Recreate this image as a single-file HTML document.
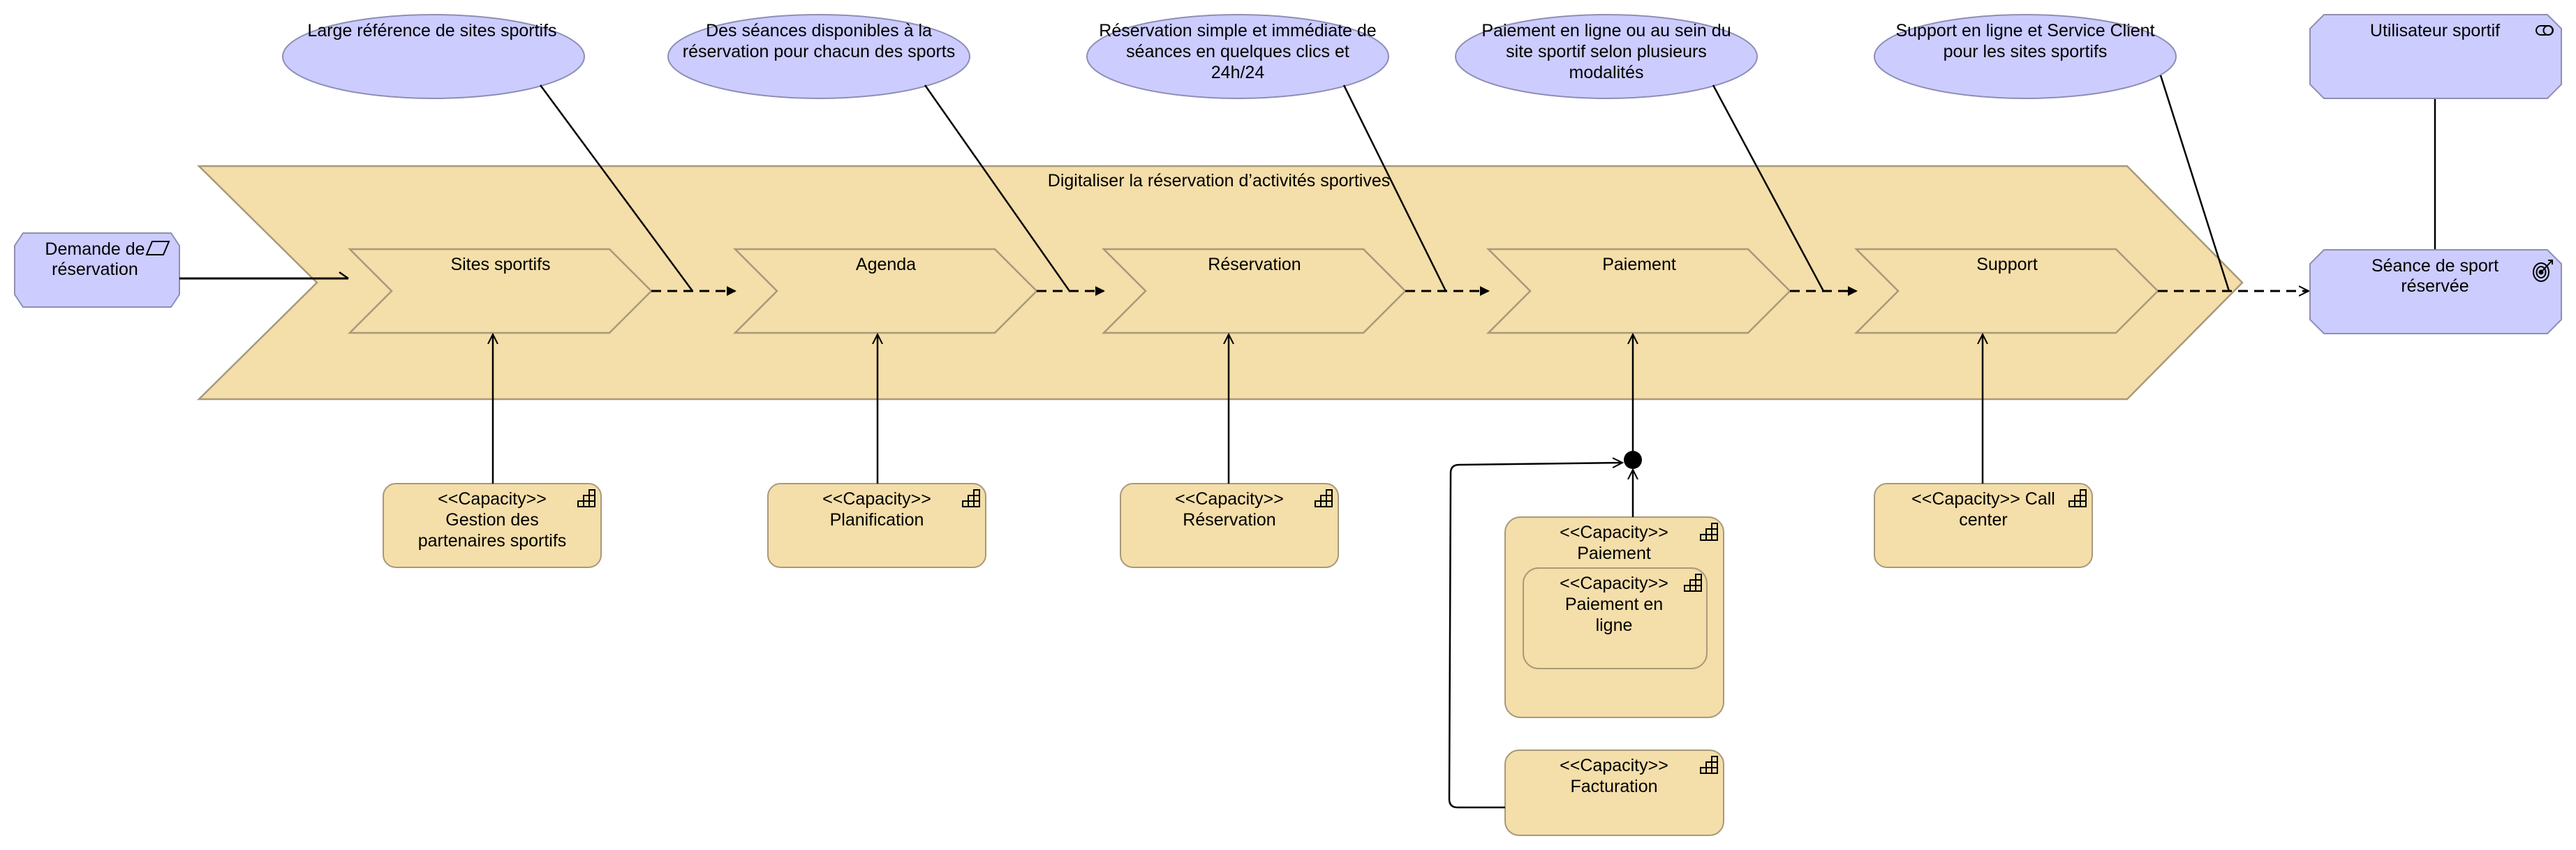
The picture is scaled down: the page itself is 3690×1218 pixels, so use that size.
<!DOCTYPE html>
<html><head><meta charset="utf-8"><style>
html,body{margin:0;padding:0;background:#fff;width:3690px;height:1218px;overflow:hidden}
text{font-family:"Liberation Sans","DejaVu Sans",sans-serif;font-size:25px;fill:#000;text-anchor:middle}
</style></head><body>
<svg width="3690" height="1218" viewBox="0 0 3690 1218" xmlns="http://www.w3.org/2000/svg">
<defs>
<marker id="fa" markerWidth="14" markerHeight="14" refX="12" refY="7" orient="auto" markerUnits="userSpaceOnUse"><path d="M0,0 L14,7 L0,14 z" fill="#000"/></marker>
<marker id="oa" markerWidth="16" markerHeight="16" refX="14" refY="8" orient="auto" markerUnits="userSpaceOnUse"><path d="M0,1 L14,8 L0,15" fill="none" stroke="#000" stroke-width="2"/></marker>
<g id="cap"><rect x="0" y="16" width="8" height="8" fill="none" stroke="#000" stroke-width="2"/><rect x="8" y="16" width="8" height="8" fill="none" stroke="#000" stroke-width="2"/><rect x="16" y="16" width="8" height="8" fill="none" stroke="#000" stroke-width="2"/><rect x="8" y="8" width="8" height="8" fill="none" stroke="#000" stroke-width="2"/><rect x="16" y="8" width="8" height="8" fill="none" stroke="#000" stroke-width="2"/><rect x="16" y="0" width="8" height="8" fill="none" stroke="#000" stroke-width="2"/></g>
</defs>

<polygon points="285,238 3047,238 3212,405 3047,572 285,572 454,405" fill="#f4dea9" stroke="#a8997a" stroke-width="2.5"/>
<text x="1746" y="267">Digitaliser la réservation d’activités sportives</text>

<g fill="#f4dea9" stroke="#a8997a" stroke-width="2.5">
<polygon points="501,357 873,357 933,417 873,477 501,477 561,417"/>
<polygon points="1053,357 1425,357 1485,417 1425,477 1053,477 1113,417"/>
<polygon points="1581,357 1953,357 2013,417 1953,477 1581,477 1641,417"/>
<polygon points="2132,357 2504,357 2564,417 2504,477 2132,477 2192,417"/>
<polygon points="2659,357 3031,357 3091,417 3031,477 2659,477 2719,417"/>
</g>
<text x="717" y="387">Sites sportifs</text>
<text x="1269" y="387">Agenda</text>
<text x="1797" y="387">Réservation</text>
<text x="2348" y="387">Paiement</text>
<text x="2875" y="387">Support</text>

<g stroke="#000" stroke-width="3" stroke-dasharray="14,9" fill="none">
<line x1="933" y1="417" x2="1053" y2="417" marker-end="url(#fa)"/>
<line x1="1485" y1="417" x2="1581" y2="417" marker-end="url(#fa)"/>
<line x1="2013" y1="417" x2="2132" y2="417" marker-end="url(#fa)"/>
<line x1="2564" y1="417" x2="2659" y2="417" marker-end="url(#fa)"/>
<line x1="3091" y1="417" x2="3307" y2="417" marker-end="url(#oa)"/>
</g>

<g fill="#ccccff" stroke="#8e8eb4" stroke-width="2">
<ellipse cx="621" cy="81" rx="216" ry="60"/>
<ellipse cx="1173" cy="81" rx="216" ry="60"/>
<ellipse cx="1773" cy="81" rx="216" ry="60"/>
<ellipse cx="2301" cy="81" rx="216" ry="60"/>
<ellipse cx="2901" cy="81" rx="216" ry="60"/>
</g>
<text x="619" y="52">Large référence de sites sportifs</text>
<text x="1173" y="52">Des séances disponibles à la</text>
<text x="1173" y="82">réservation pour chacun des sports</text>
<text x="1773" y="52">Réservation simple et immédiate de</text>
<text x="1773" y="82">séances en quelques clics et</text>
<text x="1773" y="112">24h/24</text>
<text x="2301" y="52">Paiement en ligne ou au sein du</text>
<text x="2301" y="82">site sportif selon plusieurs</text>
<text x="2301" y="112">modalités</text>
<text x="2901" y="52">Support en ligne et Service Client</text>
<text x="2901" y="82">pour les sites sportifs</text>

<g stroke="#000" stroke-width="2.5">
<line x1="774" y1="122" x2="992" y2="417"/>
<line x1="1325" y1="122" x2="1532" y2="417"/>
<line x1="1925" y1="122" x2="2071" y2="417"/>
<line x1="2454" y1="122" x2="2612" y2="417"/>
<line x1="3095" y1="108" x2="3193" y2="417"/>
<line x1="3488" y1="141" x2="3488" y2="358"/>
</g>

<polygon points="33,334 245,334 257,352 257,422 245,440 33,440 21,422 21,352" fill="#ccccff" stroke="#8e8eb4" stroke-width="2"/>
<text x="136" y="365">Demande de</text>
<text x="136" y="394">réservation</text>
<polygon points="218,346 242,346 234,365 210,365" fill="none" stroke="#000" stroke-width="2"/>
<line x1="257" y1="399" x2="499" y2="399" stroke="#000" stroke-width="3"/>
<path d="M486,390 L499,399" stroke="#000" stroke-width="2.5" fill="none"/>

<polygon points="3329,21 3649,21 3669,41 3669,121 3649,141 3329,141 3309,121 3309,41" fill="#ccccff" stroke="#8e8eb4" stroke-width="2"/>
<text x="3488" y="52">Utilisateur sportif</text>
<rect x="3633" y="37" width="24" height="13" rx="6.5" fill="none" stroke="#000" stroke-width="2"/>
<circle cx="3650" cy="43.5" r="6.5" fill="none" stroke="#000" stroke-width="2"/>
<polygon points="3329,358 3649,358 3669,378 3669,458 3649,478 3329,478 3309,458 3309,378" fill="#ccccff" stroke="#8e8eb4" stroke-width="2"/>
<text x="3488" y="389">Séance de sport</text>
<text x="3488" y="418">réservée</text>
<g fill="none" stroke="#000" stroke-width="2"><ellipse cx="3640" cy="390" rx="11" ry="13"/><ellipse cx="3640" cy="390" rx="6.5" ry="8"/><circle cx="3640" cy="390" r="2.5" fill="#000"/><line x1="3640" y1="390" x2="3656" y2="373"/><path d="M3650,373 L3656,373 L3656,379"/></g>

<g fill="#f4dea9" stroke="#a8997a" stroke-width="2">
<rect x="549" y="693" width="312" height="120" rx="18"/>
<rect x="1100" y="693" width="312" height="120" rx="18"/>
<rect x="1605" y="693" width="312" height="120" rx="18"/>
<rect x="2685" y="693" width="312" height="120" rx="18"/>
<rect x="2156" y="741" width="313" height="287" rx="22"/>
<rect x="2182" y="814" width="263" height="144" rx="22"/>
<rect x="2156" y="1075" width="313" height="122" rx="20"/>
</g>
<text x="705" y="723">&lt;&lt;Capacity&gt;&gt;</text><text x="705" y="753">Gestion des</text><text x="705" y="783">partenaires sportifs</text>
<text x="1256" y="723">&lt;&lt;Capacity&gt;&gt;</text><text x="1256" y="753">Planification</text>
<text x="1761" y="723">&lt;&lt;Capacity&gt;&gt;</text><text x="1761" y="753">Réservation</text>
<text x="2841" y="723">&lt;&lt;Capacity&gt;&gt; Call</text><text x="2841" y="753">center</text>
<text x="2312" y="771">&lt;&lt;Capacity&gt;&gt;</text><text x="2312" y="801">Paiement</text>
<text x="2312" y="844">&lt;&lt;Capacity&gt;&gt;</text><text x="2312" y="874">Paiement en</text><text x="2312" y="904">ligne</text>
<text x="2312" y="1105">&lt;&lt;Capacity&gt;&gt;</text><text x="2312" y="1135">Facturation</text>
<use href="#cap" x="828" y="702"/>
<use href="#cap" x="1379" y="702"/>
<use href="#cap" x="1884" y="702"/>
<use href="#cap" x="2964" y="702"/>
<use href="#cap" x="2436" y="750"/>
<use href="#cap" x="2413" y="823"/>
<use href="#cap" x="2436" y="1084"/>

<g stroke="#000" stroke-width="2.5" fill="none">
<line x1="706" y1="693" x2="706" y2="479" marker-end="url(#oa)"/>
<line x1="1257" y1="693" x2="1257" y2="479" marker-end="url(#oa)"/>
<line x1="1760" y1="693" x2="1760" y2="479" marker-end="url(#oa)"/>
<line x1="2840" y1="693" x2="2840" y2="479" marker-end="url(#oa)"/>
<line x1="2339" y1="741" x2="2339" y2="673" marker-end="url(#oa)"/>
<line x1="2339" y1="646" x2="2339" y2="479" marker-end="url(#oa)"/>
<path d="M2156,1157 L2088,1157 Q2076,1157 2076,1145 L2078,678 Q2078,666 2090,666 L2324,663" marker-end="url(#oa)"/>
</g>
<ellipse cx="2339" cy="659" rx="13" ry="13" fill="#000"/>
</svg>
</body></html>
